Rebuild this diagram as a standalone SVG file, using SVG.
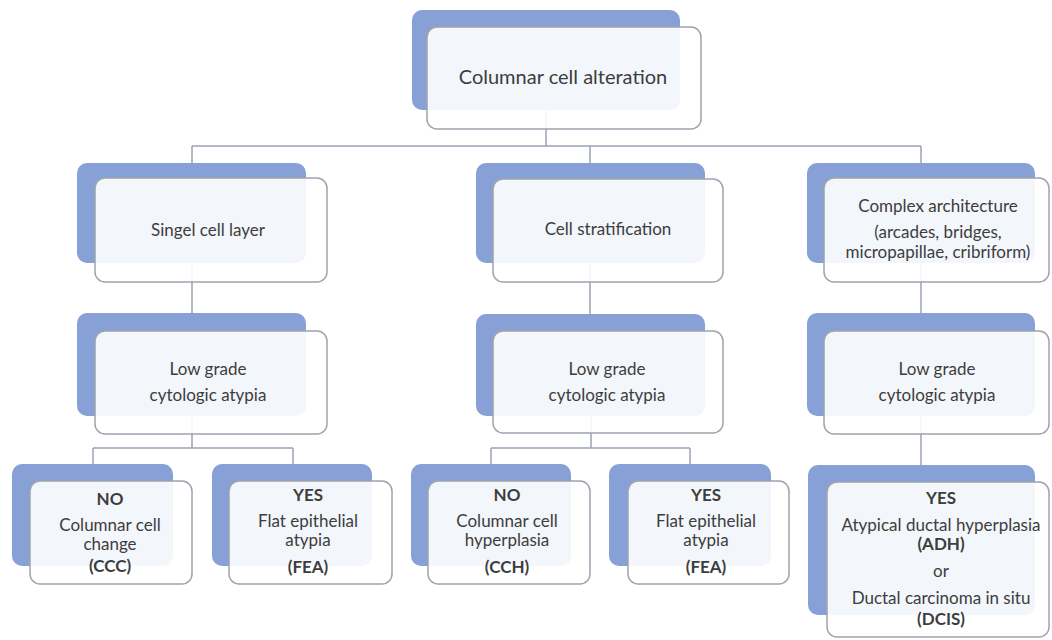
<svg xmlns="http://www.w3.org/2000/svg" width="1052" height="640" viewBox="0 0 1052 640">
<style>
.back{fill:#87a1d7;stroke:none}
.front{fill:#ffffff;fill-opacity:0.9;stroke:#9ea3ad;stroke-width:1.5}
.conn{fill:none;stroke:#9aa3b3;stroke-width:1.5}
text{font-family:Lato,"Liberation Sans",sans-serif;font-size:17px;fill:#3d3d3d;text-anchor:middle}
.b{font-weight:bold}
.title{font-size:20px}
</style>
<rect width="1052" height="640" fill="#ffffff"/>
<g id="connectors">
<path class="conn" d="M546,110 V146 M192,146 H921 M192,146 V163 M590,146 V163 M921,146 V163"/>
<path class="conn" d="M192,263 V313 M590,263 V314 M921,263 V313"/>
<path class="conn" d="M192,416 V448 M93,448 H293 M93,448 V464 M293,448 V464"/>
<path class="conn" d="M591,416 V448 M491,448 H690 M491,448 V464 M690,448 V464"/>
<path class="conn" d="M921,416 V465"/>
</g>
<g id="n-root">
<rect class="back" x="412" y="10" width="268" height="100" rx="10"/>
<rect class="front" x="427" y="27" width="274" height="102" rx="10"/>
<text class="title" x="563" y="84">Columnar cell alteration</text>
</g>
<g id="n-single">
<rect class="back" x="77" y="163" width="229" height="100" rx="10"/>
<rect class="front" x="95" y="178" width="232" height="104" rx="10"/>
<text x="208" y="236">Singel cell layer</text>
</g>
<g id="n-strat">
<rect class="back" x="476" y="163" width="229" height="100" rx="10"/>
<rect class="front" x="493" y="179" width="230" height="103" rx="10"/>
<text x="608" y="235">Cell stratification</text>
</g>
<g id="n-complex">
<rect class="back" x="807" y="163" width="228" height="100" rx="10"/>
<rect class="front" x="824" y="178" width="225" height="104" rx="10"/>
<text x="938" y="212">Complex architecture</text>
<text x="938" y="238">(arcades, bridges,</text>
<text x="938" y="258">micropapillae, cribriform)</text>
</g>
<g id="n-low1">
<rect class="back" x="77" y="313" width="229" height="103" rx="10"/>
<rect class="front" x="95" y="331" width="232" height="103" rx="10"/>
<text x="208" y="375">Low grade</text>
<text x="208" y="401">cytologic atypia</text>
</g>
<g id="n-low2">
<rect class="back" x="476" y="314" width="229" height="102" rx="10"/>
<rect class="front" x="493" y="331" width="230" height="102" rx="10"/>
<text x="607" y="375">Low grade</text>
<text x="607" y="401">cytologic atypia</text>
</g>
<g id="n-low3">
<rect class="back" x="807" y="313" width="228" height="103" rx="10"/>
<rect class="front" x="824" y="331" width="225" height="103" rx="10"/>
<text x="937" y="375">Low grade</text>
<text x="937" y="401">cytologic atypia</text>
</g>
<g id="n-ccc">
<rect class="back" x="12" y="464" width="161" height="102" rx="10"/>
<rect class="front" x="30" y="481" width="162" height="103" rx="10"/>
<text class="b" x="110" y="505">NO</text>
<text x="110" y="531">Columnar cell</text>
<text x="110" y="550">change</text>
<text class="b" x="110" y="572">(CCC)</text>
</g>
<g id="n-fea1">
<rect class="back" x="212" y="464" width="160" height="102" rx="10"/>
<rect class="front" x="229" y="481" width="163" height="103" rx="10"/>
<text class="b" x="308" y="501">YES</text>
<text x="308" y="527">Flat epithelial</text>
<text x="308" y="546">atypia</text>
<text class="b" x="308" y="573">(FEA)</text>
</g>
<g id="n-cch">
<rect class="back" x="411" y="464" width="160" height="102" rx="10"/>
<rect class="front" x="428" y="481" width="162" height="103" rx="10"/>
<text class="b" x="507" y="501">NO</text>
<text x="507" y="527">Columnar cell</text>
<text x="507" y="546">hyperplasia</text>
<text class="b" x="507" y="573">(CCH)</text>
</g>
<g id="n-fea2">
<rect class="back" x="609" y="464" width="162" height="102" rx="10"/>
<rect class="front" x="628" y="481" width="161" height="103" rx="10"/>
<text class="b" x="706" y="501">YES</text>
<text x="706" y="527">Flat epithelial</text>
<text x="706" y="546">atypia</text>
<text class="b" x="706" y="573">(FEA)</text>
</g>
<g id="n-adh">
<rect class="back" x="808" y="465" width="227" height="150" rx="10"/>
<rect class="front" x="827" y="482" width="222" height="155" rx="10"/>
<text class="b" x="941" y="504">YES</text>
<text x="941" y="531">Atypical ductal hyperplasia</text>
<text class="b" x="941" y="550">(ADH)</text>
<text x="941" y="577">or</text>
<text x="941" y="604">Ductal carcinoma in situ</text>
<text class="b" x="941" y="625">(DCIS)</text>
</g>
</svg>
